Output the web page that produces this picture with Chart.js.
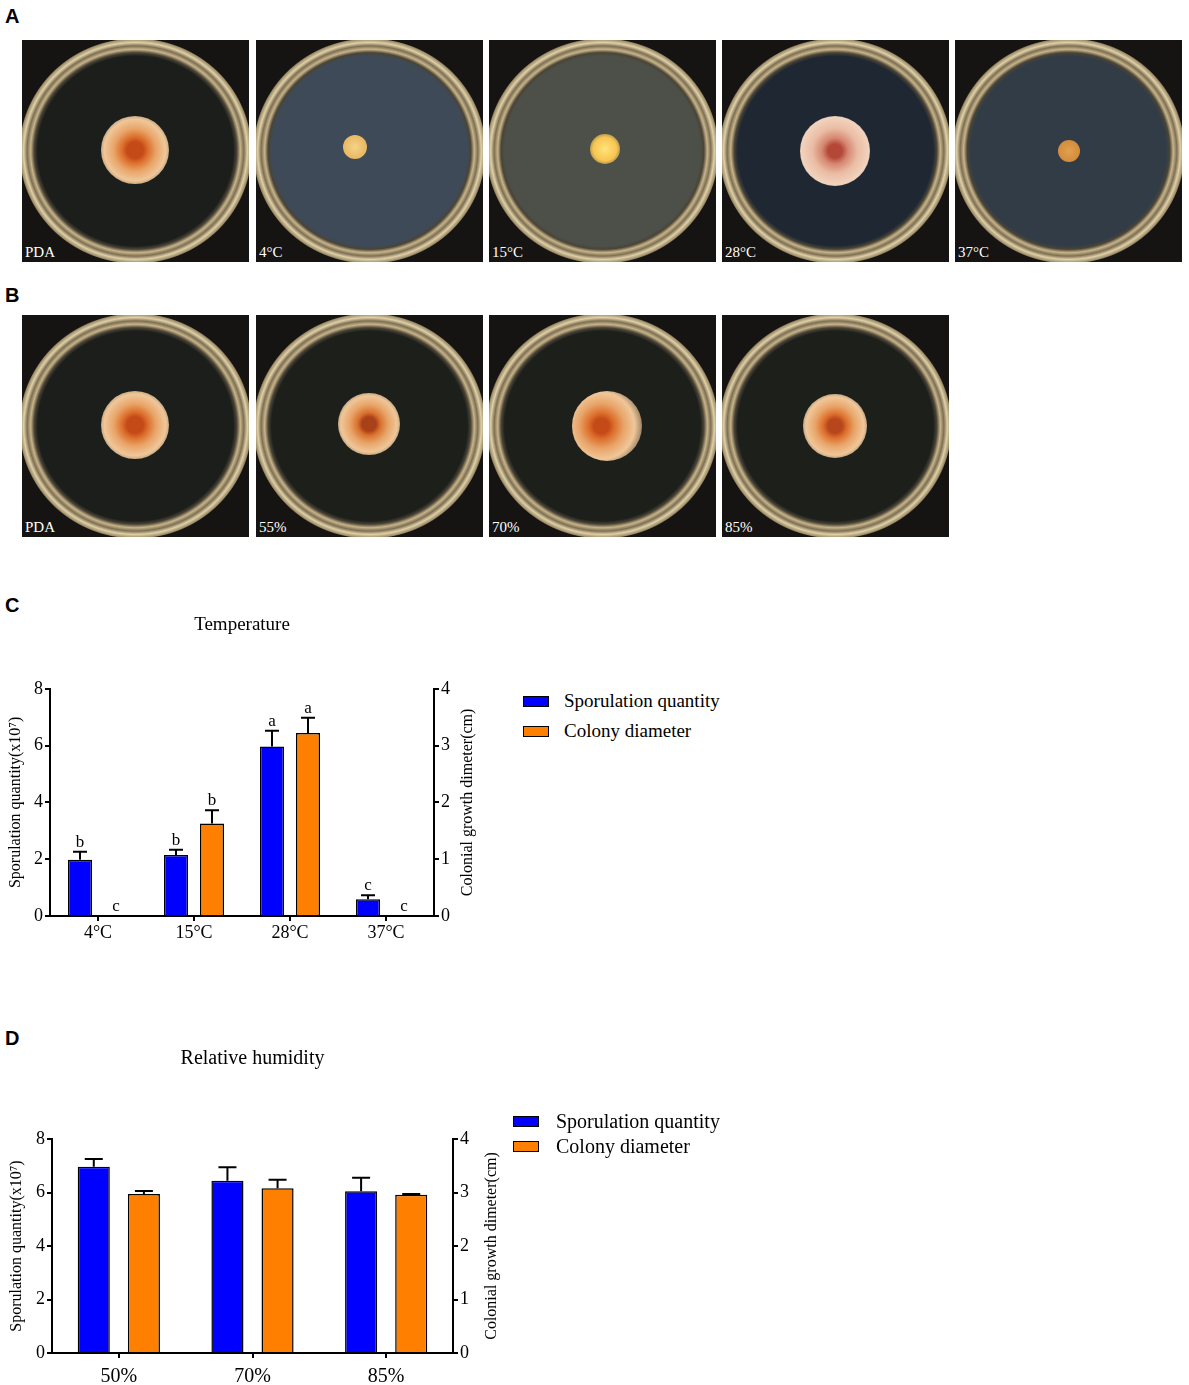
<!DOCTYPE html>
<html>
<head>
<meta charset="utf-8">
<script src="https://cdn.jsdelivr.net/npm/chart.js@4.4.0/dist/chart.umd.min.js"></script>
<style>
html, body { margin: 0; padding: 0; background: #fff; overflow: hidden; }
body { position: relative; width: 1189px; height: 1385px; font-family: "Liberation Serif", "Times New Roman", serif; }
.panel { position: absolute; left: 5px; font-family: "Liberation Sans", Arial, sans-serif; font-weight: bold; font-size: 20px; line-height: 22px; }
.frame { position: absolute; width: 227px; height: 222px; background: #151412; overflow: hidden; }
.plate { position: absolute; left: -3px; top: -2px; width: 233px; height: 226px; border-radius: 50%; }
.colony { position: absolute; border-radius: 50%; }
.tag { position: absolute; left: 3px; bottom: 1px; color: #fff; font-size: 15px; }
canvas { position: absolute; left: 0; }
.legend { position: absolute; margin: 0; padding: 0; list-style: none; color: #000; }
.legend li { display: flex; align-items: center; white-space: nowrap; }
.legend .box { display: inline-block; width: 26px; height: 11px; border: 1px solid #000; box-sizing: border-box; }
</style>
</head>
<body>
<div class="panel" style="top:5px">A</div>
<div class="panel" style="top:284px">B</div>
<div class="panel" style="top:594px">C</div>
<div class="panel" style="top:1027px">D</div>
<div id="photos"></div>

<canvas id="tempChart" width="500" height="350" style="top:600px"></canvas>
<ul class="legend" id="tempLegend" style="left:523px;top:686px;font-size:19px"></ul>

<canvas id="humChart" width="520" height="360" style="top:1030px"></canvas>
<ul class="legend" id="humLegend" style="left:513px;top:1109px;font-size:20px"></ul>

<script>
// values (C: temperature, D: relative humidity)
const tempLabels = ['4°C', '15°C', '28°C', '37°C'];
const tempSpores = [1.98, 2.15, 5.97, 0.59];
const tempSporesErr = [0.28, 0.18, 0.55, 0.14];
const tempSporesSig = ['b', 'b', 'a', 'c'];
const tempDiam = [0, 1.63, 3.22, 0];
const tempDiamErr = [0, 0.23, 0.27, 0];
const tempDiamSig = ['c', 'b', 'a', 'c'];

const humLabels = ['50%', '70%', '85%'];
const humSpores = [6.96, 6.44, 6.05];
const humSporesErr = [0.29, 0.50, 0.50];
const humDiam = [2.97, 3.08, 2.96];
const humDiamErr = [0.06, 0.16, 0.01];

const seriesNames = ['Sporulation quantity', 'Colony diameter'];
const seriesColors = ['#0000ff', '#ff8000'];

// plate photos of panels A and B (only a sketch of them)
const rowA = [
  { x: 22, tag: 'PDA', agar: '#1c1e1b', colony: 'pda' },
  { x: 256, tag: '4°C', agar: '#3e4a57', colony: 'pale' },
  { x: 489, tag: '15°C', agar: '#4d5049', colony: 'yellow' },
  { x: 722, tag: '28°C', agar: '#1f2832', colony: 'pink' },
  { x: 955, tag: '37°C', agar: '#323c46', colony: 'small' }
];
const rowB = [
  { x: 22, tag: 'PDA', agar: '#1c1e1b', colony: 'pda' },
  { x: 256, tag: '55%', agar: '#1d1f1b', colony: 'pda55' },
  { x: 489, tag: '70%', agar: '#1d1f1b', colony: 'pda70' },
  { x: 722, tag: '85%', agar: '#1d1f1b', colony: 'pda85' }
];

const colonyLook = {
  pda: { size: 68, dx: 0, dy: -1, bg: 'radial-gradient(circle, #c44a18 0 17%, #dc6e2c 27%, #e9a468 44%, #efc79a 64%, rgba(236,196,150,0.55) 82%, rgba(236,196,150,0) 100%)' },
  pale: { size: 24, dx: -14, dy: -4, bg: 'radial-gradient(circle, #f4d585 0, #e8b765 68%, rgba(232,183,101,0) 100%)' },
  yellow: { size: 30, dx: 3, dy: -2, bg: 'radial-gradient(circle, #ffe47a 0, #f7c552 55%, rgba(247,197,82,0) 100%)' },
  pink: { size: 70, dx: 0, dy: 0, bg: 'radial-gradient(circle, #b44838 0 14%, #d58670 26%, #ebbca4 46%, #f1d3bd 68%, rgba(240,210,188,0.5) 84%, rgba(240,210,188,0) 100%)' },
  small: { size: 22, dx: 1, dy: 0, bg: 'radial-gradient(circle, #e2a04e 0, #d38c3c 70%, rgba(211,140,60,0) 100%)' },
  pda55: { size: 62, dx: 0, dy: -2, bg: 'radial-gradient(circle, #a8401a 0 16%, #d9702e 26%, #e8a468 44%, #eec79a 64%, rgba(236,196,150,0.5) 82%, rgba(236,196,150,0) 100%)' },
  pda70: { size: 70, dx: 5, dy: 0, bg: 'radial-gradient(circle at 42% 50%, #c44a18 0 14%, #dc6e2c 24%, #e9a468 42%, #efc79a 62%, rgba(236,196,150,0.5) 80%, rgba(236,196,150,0) 100%)' },
  pda85: { size: 64, dx: 0, dy: 0, bg: 'radial-gradient(circle, #b8461c 0 16%, #dc6e2c 26%, #e9a468 44%, #efc79a 64%, rgba(236,196,150,0.5) 82%, rgba(236,196,150,0) 100%)' }
};

function addRow(top, frames) {
  const holder = document.getElementById('photos');
  frames.forEach(f => {
    const frame = document.createElement('div');
    frame.className = 'frame';
    frame.style.left = f.x + 'px';
    frame.style.top = top + 'px';
    const plate = document.createElement('div');
    plate.className = 'plate';
    plate.style.background = 'radial-gradient(ellipse closest-side, ' + f.agar + ' 0 84%, #4a4436 87%, #c8b48a 90%, #7d6f52 93%, #e0d0a8 96%, #9a8a66 99%, rgba(0,0,0,0) 100%)';
    frame.appendChild(plate);
    const c = colonyLook[f.colony];
    const col = document.createElement('div');
    col.className = 'colony';
    col.style.width = c.size + 'px';
    col.style.height = c.size + 'px';
    col.style.left = (113 + c.dx - c.size / 2) + 'px';
    col.style.top = (111 + c.dy - c.size / 2) + 'px';
    col.style.background = c.bg;
    frame.appendChild(col);
    const tag = document.createElement('div');
    tag.className = 'tag';
    tag.textContent = f.tag;
    frame.appendChild(tag);
    holder.appendChild(frame);
  });
}
addRow(40, rowA);
addRow(315, rowB);

Chart.defaults.font.family = '"Liberation Serif", "Times New Roman", serif';
Chart.defaults.color = '#000';

// whiskers (upper only) plus significance letters
const errorBars = {
  id: 'errorBars',
  afterDatasetsDraw(chart, args, opts) {
    const ctx = chart.ctx;
    chart.data.datasets.forEach((ds, i) => {
      const meta = chart.getDatasetMeta(i);
      const scale = chart.scales[ds.yAxisID];
      meta.data.forEach((bar, j) => {
        const top = scale.getPixelForValue(ds.data[j] + ds.errors[j]);
        ctx.save();
        ctx.strokeStyle = '#000';
        ctx.lineWidth = 2;
        if (ds.errors[j] > 0) {
          ctx.beginPath();
          ctx.moveTo(bar.x, bar.y);
          ctx.lineTo(bar.x, top);
          ctx.moveTo(bar.x - opts.cap, top);
          ctx.lineTo(bar.x + opts.cap, top);
          ctx.stroke();
        }
        if (ds.letters) {
          ctx.fillStyle = '#000';
          ctx.font = '17px "Liberation Serif", serif';
          ctx.textAlign = 'center';
          ctx.textBaseline = 'bottom';
          ctx.fillText(ds.letters[j], bar.x, top - 1);
        }
        ctx.restore();
      });
    });
  }
};

// right axis title reads bottom-to-top like the left one
const rightTitle = {
  id: 'rightTitle',
  afterDraw(chart, args, opts) {
    const s = chart.scales.y2;
    const ctx = chart.ctx;
    ctx.save();
    ctx.translate(s.left + opts.offset, (s.top + s.bottom) / 2);
    ctx.rotate(-Math.PI / 2);
    ctx.fillStyle = '#000';
    ctx.font = '16px "Liberation Serif", serif';
    ctx.textAlign = 'center';
    ctx.textBaseline = 'middle';
    ctx.fillText(opts.text, 0, 0);
    ctx.restore();
  }
};

const htmlLegend = {
  id: 'htmlLegend',
  afterUpdate(chart, args, opts) {
    const ul = document.getElementById(opts.containerID);
    ul.innerHTML = '';
    chart.options.plugins.legend.labels.generateLabels(chart).forEach(item => {
      const li = document.createElement('li');
      li.style.height = opts.rowHeight + 'px';
      const box = document.createElement('span');
      box.className = 'box';
      box.style.background = item.fillStyle;
      box.style.marginRight = opts.gap + 'px';
      const txt = document.createElement('span');
      txt.textContent = item.text;
      li.append(box, txt);
      ul.appendChild(li);
    });
  }
};

function makeChart(id, cfg) {
  const axisLine = { color: '#000', width: 2 };
  const tickMarks = { drawOnChartArea: false, color: '#000', lineWidth: 2, tickLength: 5 };
  return new Chart(document.getElementById(id), {
    type: 'bar',
    data: {
      labels: cfg.labels,
      datasets: [{
        label: seriesNames[0],
        data: cfg.spores,
        errors: cfg.sporesErr,
        letters: cfg.sporesSig,
        yAxisID: 'y',
        backgroundColor: seriesColors[0],
        borderColor: '#000',
        borderWidth: 1.5,
        barPercentage: cfg.barPct,
        categoryPercentage: 0.75
      }, {
        label: seriesNames[1],
        data: cfg.diam,
        errors: cfg.diamErr,
        letters: cfg.diamSig,
        yAxisID: 'y2',
        backgroundColor: seriesColors[1],
        borderColor: '#000',
        borderWidth: 1.5,
        barPercentage: cfg.barPct,
        categoryPercentage: 0.75
      }]
    },
    options: {
      responsive: false,
      animation: false,
      layout: { padding: 0 },
      scales: {
        x: {
          grid: Object.assign({}, tickMarks, { offset: false }),
          border: axisLine,
          ticks: { font: { size: cfg.catSize }, padding: cfg.catPad, maxRotation: 0 },
          afterFit: s => { s.height = cfg.xHeight; }
        },
        y: {
          position: 'left',
          min: 0, max: 8,
          grid: tickMarks,
          border: axisLine,
          ticks: { stepSize: 2, font: { size: 18 }, padding: 2 },
          title: { display: true, text: 'Sporulation quantity(x10⁷)', font: { size: 16 }, padding: { top: cfg.leftTitlePad, bottom: 0 } },
          afterFit: s => { s.width = cfg.left; }
        },
        y2: {
          position: 'right',
          min: 0, max: 4,
          grid: tickMarks,
          border: axisLine,
          ticks: { stepSize: 1, font: { size: 18 }, padding: 2 },
          afterFit: s => { s.width = cfg.rightWidth; }
        }
      },
      plugins: {
        legend: { display: false },
        tooltip: { enabled: false },
        title: {
          display: true,
          text: cfg.title,
          fullSize: false,
          font: { size: cfg.titleSize, weight: 'normal' },
          color: '#000',
          padding: { top: cfg.titleTop, bottom: cfg.titleBottom }
        },
        errorBars: { cap: cfg.cap },
        rightTitle: { text: 'Colonial growth dimeter(cm)', offset: cfg.rightTitleOffset },
        htmlLegend: { containerID: cfg.legendId, rowHeight: cfg.legendRow, gap: cfg.legendGap }
      }
    },
    plugins: [errorBars, rightTitle, htmlLegend]
  });
}

makeChart('tempChart', {
  labels: tempLabels,
  spores: tempSpores, sporesErr: tempSporesErr, sporesSig: tempSporesSig,
  diam: tempDiam, diamErr: tempDiamErr, diamSig: tempDiamSig,
  title: 'Temperature', titleSize: 19, titleTop: 14, titleBottom: 52,
  barPct: 0.667, cap: 7,
  catSize: 18, catPad: 1, xHeight: 34,
  left: 50, rightWidth: 66, leftTitlePad: 6, rightTitleOffset: 34,
  legendId: 'tempLegend', legendRow: 30, legendGap: 15
});

makeChart('humChart', {
  labels: humLabels,
  spores: humSpores, sporesErr: humSporesErr, sporesSig: null,
  diam: humDiam, diamErr: humDiamErr, diamSig: null,
  title: 'Relative humidity', titleSize: 20, titleTop: 17, titleBottom: 68,
  barPct: 0.64, cap: 9,
  catSize: 20, catPad: 7, xHeight: 37,
  left: 52, rightWidth: 67, leftTitlePad: 7, rightTitleOffset: 39,
  legendId: 'humLegend', legendRow: 25, legendGap: 17
});
</script>
</body>
</html>
